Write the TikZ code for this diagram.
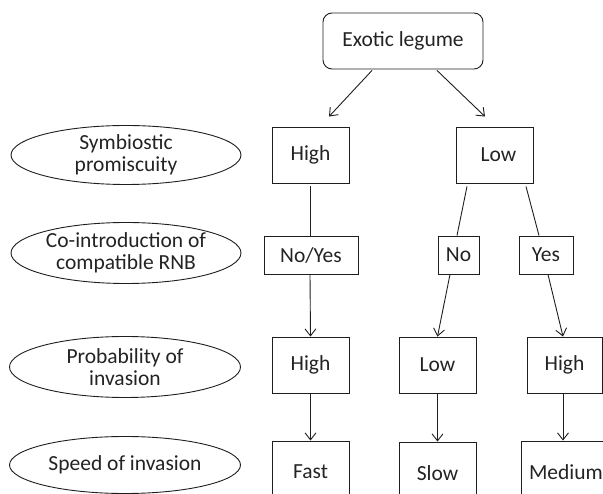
\documentclass[tikz,border=0pt]{standalone}
\usepackage{fontspec}
\setmainfont{Carlito}
\usetikzlibrary{shapes.geometric,arrows.meta,calc}
\definecolor{ln}{RGB}{30,30,30}
\definecolor{txt}{RGB}{35,35,35}
\begin{document}
\begin{tikzpicture}[x=1pt,y=-1pt,
  lbl/.style={font=\fontsize{21.5}{22}\selectfont, text=txt, align=center, inner sep=0pt},
  box/.style={lbl, draw=ln, line width=0.9pt, rectangle},
  ell/.style={draw=ln, line width=0.9pt, ellipse, inner sep=0pt},
  conn/.style={draw=ln, line width=0.9pt},
  arr/.style={conn, -{Straight Barb[length=7pt,width=11pt]}},
]
\useasboundingbox (0,0) rectangle (603,494);
\clip (0,0) rectangle (603,494);

% root
\node[box, rounded corners=9pt, minimum width=160pt, minimum height=56pt] (leg) at (403,41) {Exotic legume};

% ellipses (row labels)
\node[ell, minimum width=230pt, minimum height=59pt] (e1) at (126,155) {};
\node[lbl] (t1) at (e1) {Symbiostic\\promiscuity};
\node[ell, minimum width=230pt, minimum height=61pt] (e2) at (126,253) {};
\node[lbl] (t2) at (e2) {Co-introduction of\\compatible RNB};
\node[ell, minimum width=231pt, minimum height=61pt] (e3) at (125,367) {};
\node[lbl] (t3) at (e3) {Probability of\\invasion};
\node[ell, minimum width=231pt, minimum height=57pt] (e4) at (125,465) {};
\node[lbl] (t4) at (e4) {Speed of invasion};

% row 1
\node[box, minimum width=77pt, minimum height=56pt] (h1) at (310.5,155) {High};
\node[box, minimum width=77pt, minimum height=56pt] (l1) at (494.5,155) {\hspace*{8pt}Low};

% row 2
\node[box, minimum width=94pt, minimum height=38pt] (ny) at (311,255) {No/Yes};
\node[box, minimum width=41pt, minimum height=38pt] (no) at (458.5,255) {No};
\node[box, minimum width=54pt, minimum height=38pt] (yes) at (546,255) {Yes};

% row 3
\node[box, minimum width=77pt, minimum height=56pt] (h2) at (310.5,365) {High};
\node[box, minimum width=77pt, minimum height=56pt] (l2) at (437.5,365) {Low};
\node[box, minimum width=75pt, minimum height=56pt] (h3) at (564.5,365) {High};

% row 4
\node[box, minimum width=77pt, minimum height=62pt] (fast) at (310.5,472) {Fast};
\node[box, minimum width=77pt, minimum height=62pt] (slow) at (437.5,473) {Slow};
\node[box, minimum width=86pt, minimum height=62pt] (med) at (564,472) {\hspace*{4pt}Medium};

% connectors
\draw[arr] ($(leg.south)+(-31,1)$) -- ($(h1.north)+(18.5,-10)$);
\draw[arr] ($(leg.south)+(34,1)$) -- ($(l1.north)+(-9.5,-10)$);

\draw[conn] ($(h1.south)+(-0.5,3)$) -- ($(ny.north)+(-1,0)$);
\draw[conn] ($(l1.south)+(-27.5,3)$) -- ($(no.north)+(-1.5,0)$);
\draw[conn] ($(l1.south)+(31.5,3)$) -- ($(yes.north)+(-7,0)$);

\draw[arr] ($(ny.south)+(-1,0)$) -- (h2.north);
\draw[arr] ($(no.south)+(-8.5,0)$) -- (l2.north);
\draw[arr] ($(yes.south)+(2,0)$) -- ($(h3.north)+(-1.5,0)$);

\draw[arr] (h2.south) -- (fast.north);
\draw[arr] (l2.south) -- (slow.north);
\draw[arr] ($(h3.south)+(-1.5,0)$) -- ($(med.north)+(-1,0)$);
\end{tikzpicture}
\end{document}
